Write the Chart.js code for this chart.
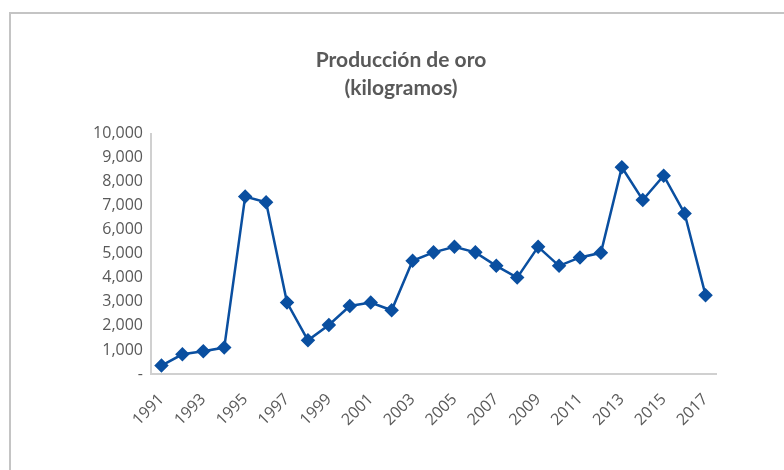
<!DOCTYPE html>
<html>
<head>
<meta charset="utf-8">
<script src="https://cdn.jsdelivr.net/npm/chart.js@4"></script>
<style>
  body { margin: 0; background: #fff; overflow: hidden; }
  #frame { position: absolute; left: 9px; top: 12px; width: 900px; height: 600px;
           border-left: 2px solid #c4c4c4; border-top: 2px solid #c4c4c4; }
  #wrap { position: absolute; left: 0; top: 0; width: 784px; height: 470px; }
</style>
</head>
<body>
<div id="frame"></div>
<div id="wrap"><canvas id="goldChart" width="784" height="470"></canvas></div>
<script>
const years = ['1991', '1992', '1993', '1994', '1995', '1996', '1997', '1998', '1999',
    '2000', '2001', '2002', '2003', '2004', '2005', '2006', '2007', '2008', '2009',
    '2010', '2011', '2012', '2013', '2014', '2015', '2016', '2017'];
const production = [350, 820, 950, 1100, 7380, 7140, 2970, 1400, 2040,
    2830, 2970, 2650, 4710, 5060, 5290, 5060, 4500, 4010, 5290,
    4500, 4850, 5040, 8600, 7240, 8250, 6680, 3280];
const titleLines = ['Producción de oro', '(kilogramos)'];

const gray = '#595959';
const blue = '#0a4fa0';

const goldChart = new Chart(document.getElementById('goldChart'), {
    type: 'line',
    data: {
        labels: years,
        datasets: [
            {
                label: 'Producción de oro',
                data: production,
                borderColor: blue,
                backgroundColor: blue,
                borderWidth: 2.5,
                pointStyle: 'rectRot',
                pointRadius: 5.5,
                pointHoverRadius: 6,
                tension: 0
            }
        ]
    },
    options: {
        responsive: false,
        animation: false,
        layout: {
            padding: { left: 86, right: 68, top: 35, bottom: 10 }
        },
        plugins: {
            legend: { display: false },
            tooltip: { enabled: false },
            title: {
                display: true,
                text: titleLines,
                color: gray,
                font: { family: 'Lato', size: 21, weight: 'bold', lineHeight: 1.3 },
                padding: { top: 12, bottom: 32 }
            }
        },
        scales: {
            x: {
                offset: true,
                grid: { display: false },
                border: { display: true, color: '#d0d0d0', width: 2 },
                ticks: {
                    autoSkip: false,
                    maxRotation: 45,
                    minRotation: 45,
                    padding: 8,
                    color: gray,
                    font: { family: "'Open Sans'", size: 16 },
                    callback: function (value, index) {
                        return index % 2 === 0 ? years[index] : '';
                    }
                },
                afterFit: function (scale) { scale.height = 86; }
            },
            y: {
                min: 0,
                max: 10000,
                grid: { display: false },
                border: { display: true, color: '#d0d0d0', width: 2 },
                ticks: {
                    stepSize: 1000,
                    padding: 0,
                    color: gray,
                    font: { family: "'Open Sans'", size: 16 },
                    callback: function (value) {
                        return value === 0 ? '-' : value.toLocaleString('en-US');
                    }
                },
                afterFit: function (scale) { scale.width = 65; }
            }
        }
    }
});
</script>
</body>
</html>
